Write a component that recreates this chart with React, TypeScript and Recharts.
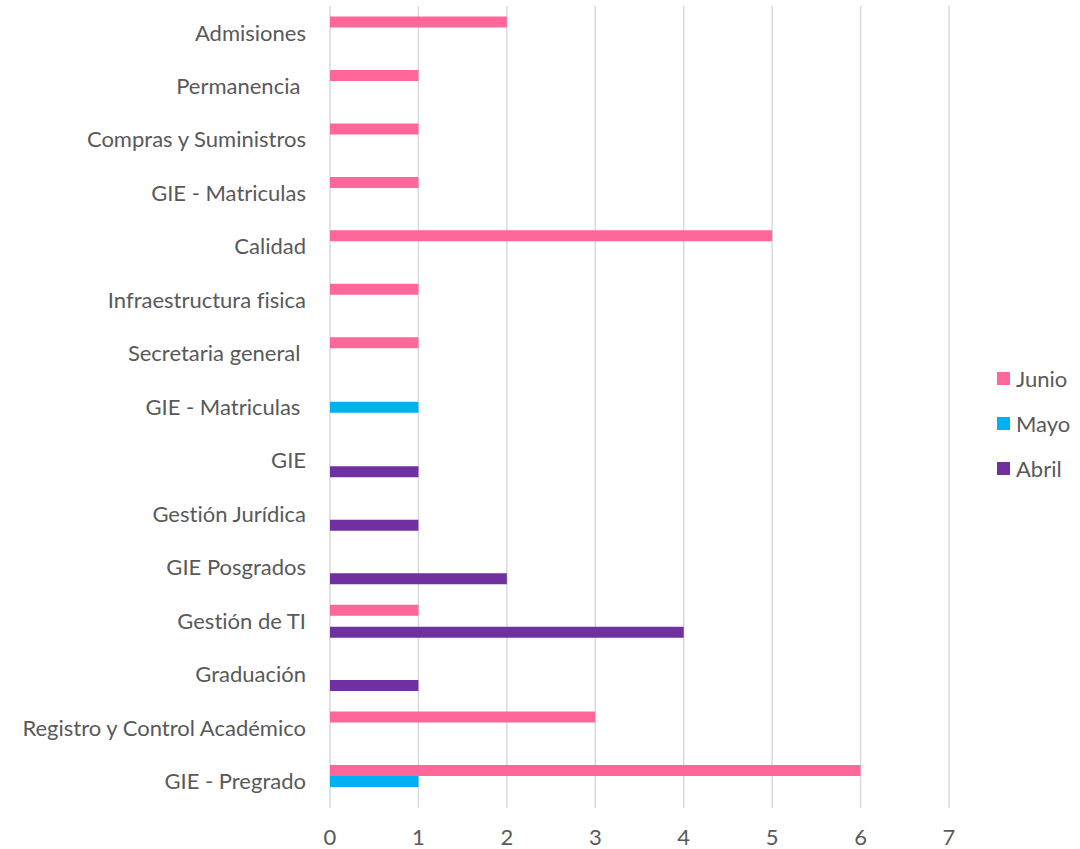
import { BarChart, Bar, XAxis, YAxis, CartesianGrid, Legend } from "recharts";

// categories top to bottom (trailing nbsp where the source label has a trailing space)
const categories = [
  "Admisiones",
  "Permanencia\u00a0",
  "Compras y Suministros",
  "GIE - Matriculas",
  "Calidad",
  "Infraestructura fisica",
  "Secretaria general\u00a0",
  "GIE - Matriculas\u00a0",
  "GIE",
  "Gestión Jurídica",
  "GIE Posgrados",
  "Gestión de TI",
  "Graduación",
  "Registro y Control Académico",
  "GIE - Pregrado",
];

const junio = [2, 1, 1, 1, 5, 1, 1, null, null, null, null, 1, null, 3, 6];
const mayo = [null, null, null, null, null, null, null, 1, null, null, null, null, null, null, 1];
const abril = [null, null, null, null, null, null, null, null, 1, 1, 2, 4, 1, null, null];

const series = ["Junio", "Mayo", "Abril"];
const xTicks = [0, 1, 2, 3, 4, 5, 6, 7];

const colours: { [key: string]: string } = {
  Junio: "#FF6699",
  Mayo: "#00B0F0",
  Abril: "#7030A0",
};

const data = categories.map((name, i) => ({
  name,
  Junio: junio[i],
  Mayo: mayo[i],
  Abril: abril[i],
}));

const font = "Lato, 'Open Sans', sans-serif";
const textColour = "#595959";
const tickStyle = {
  fill: textColour,
  fontSize: 22,
  fontFamily: font,
  style: { fontVariantLigatures: "none" },
};

// legend in series order (recharts sorts the payload by name otherwise)
const renderLegend = () => (
  <div style={{ width: 80, fontFamily: font, fontSize: 22, color: textColour }}>
    {series.map((s) => (
      <div key={s} style={{ display: "flex", alignItems: "center", height: 45 }}>
        <span style={{ display: "inline-block", width: 13, height: 13, background: colours[s], marginRight: 6 }} />
        <span>{s}</span>
      </div>
    ))}
  </div>
);

export default function App() {
  return (
    <div style={{ width: 1080, height: 849 }}>
      <style>{`body{margin:0}`}</style>
      <BarChart
        width={1080}
        height={849}
        data={data}
        layout="vertical"
        margin={{ top: 6, right: 51, bottom: 0, left: 0 }}
        barCategoryGap={10.5}
        barGap={0}
      >
        <CartesianGrid horizontal={false} stroke="#d9d9d9" strokeWidth={1.5} />
        <XAxis
          type="number"
          domain={[0, 7]}
          ticks={xTicks}
          axisLine={false}
          tickLine={false}
          tickSize={0}
          tickMargin={21}
          height={41}
          tick={tickStyle}
        />
        <YAxis
          type="category"
          dataKey="name"
          width={330}
          axisLine={false}
          tickLine={false}
          tickSize={0}
          tickMargin={24}
          interval={0}
          tick={tickStyle}
        />
        <Legend
          layout="vertical"
          align="right"
          verticalAlign="middle"
          content={renderLegend}
          wrapperStyle={{ left: 997, top: 356, right: "auto" }}
        />
        {series.map((s) => (
          <Bar key={s} dataKey={s} fill={colours[s]} isAnimationActive={false} />
        ))}
      </BarChart>
    </div>
  );
}
